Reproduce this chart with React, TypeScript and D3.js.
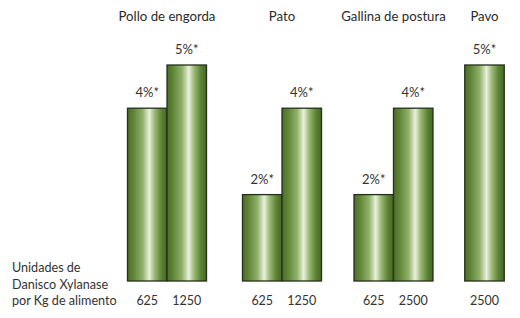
import React from "react";
import * as d3 from "d3";

const groups = ["Pollo de engorda", "Pato", "Gallina de postura", "Pavo"];
const doses = [["625", "1250"], ["625", "1250"], ["625", "2500"], ["2500"]];
const values = [[4, 5], [2, 4], [2, 4], [5]];
const valueLabels = [["4%*", "5%*"], ["2%*", "4%*"], ["2%*", "4%*"], ["5%*"]];
const axisLines = ["Unidades de", "Danisco Xylanase", "por Kg de alimento"];

export default function App() {
  const W = 520, H = 318;
  const groupCenters = [167, 282, 393.5, 484.5];
  const gx = d3.scalePoint<string>().domain(groups).range([groupCenters[0], groupCenters[3]]);
  const barW = 39.5;
  const y = d3.scaleLinear().domain([0, 5]).range([281, 65]);
  const font = "Lato, 'Open Sans', sans-serif";

  return (
    <svg width={W} height={H} style={{ position: "absolute", left: 0, top: 0, background: "#fff" }}>
      <defs>
        <linearGradient id="barGrad" x1="0" x2="1" y1="0" y2="0">
          <stop offset="0%" stopColor="#4c6d2a" />
          <stop offset="15%" stopColor="#5f8536" />
          <stop offset="38%" stopColor="#90b06a" />
          <stop offset="55%" stopColor="#eaf1de" />
          <stop offset="68%" stopColor="#9dbb78" />
          <stop offset="85%" stopColor="#5e8535" />
          <stop offset="100%" stopColor="#466626" />
        </linearGradient>
      </defs>
      {groups.map((g, gi) => {
        const n = values[gi].length;
        const cx = groupCenters[gi] ?? gx(g)!;
        const x0 = cx - (n * barW) / 2;
        return (
          <g key={g}>
            <text x={cx} y={21} textAnchor="middle" fontFamily={font} fontSize={13.2} fill="#2b2b2b">{g}</text>
            {values[gi].map((v, bi) => {
              const bx = x0 + bi * barW;
              return (
                <g key={bi}>
                  <rect x={bx} y={y(v)} width={barW} height={y(0) - y(v)} fill="url(#barGrad)" stroke="#23311a" strokeWidth={1.3} />
                  <text x={bx + barW / 2} y={y(v) - 11} textAnchor="middle" fontFamily={font} fontSize={13} fill="#333">{valueLabels[gi][bi]}</text>
                  <text x={bx + barW / 2} y={305} textAnchor="middle" fontFamily={font} fontSize={12.5} fill="#333">{doses[gi][bi]}</text>
                </g>
              );
            })}
          </g>
        );
      })}
      {axisLines.map((t, i) => (
        <text key={i} x={12} y={272 + i * 16.5} fontFamily={font} fontSize={12.6} fill="#333">{t}</text>
      ))}
    </svg>
  );
}
